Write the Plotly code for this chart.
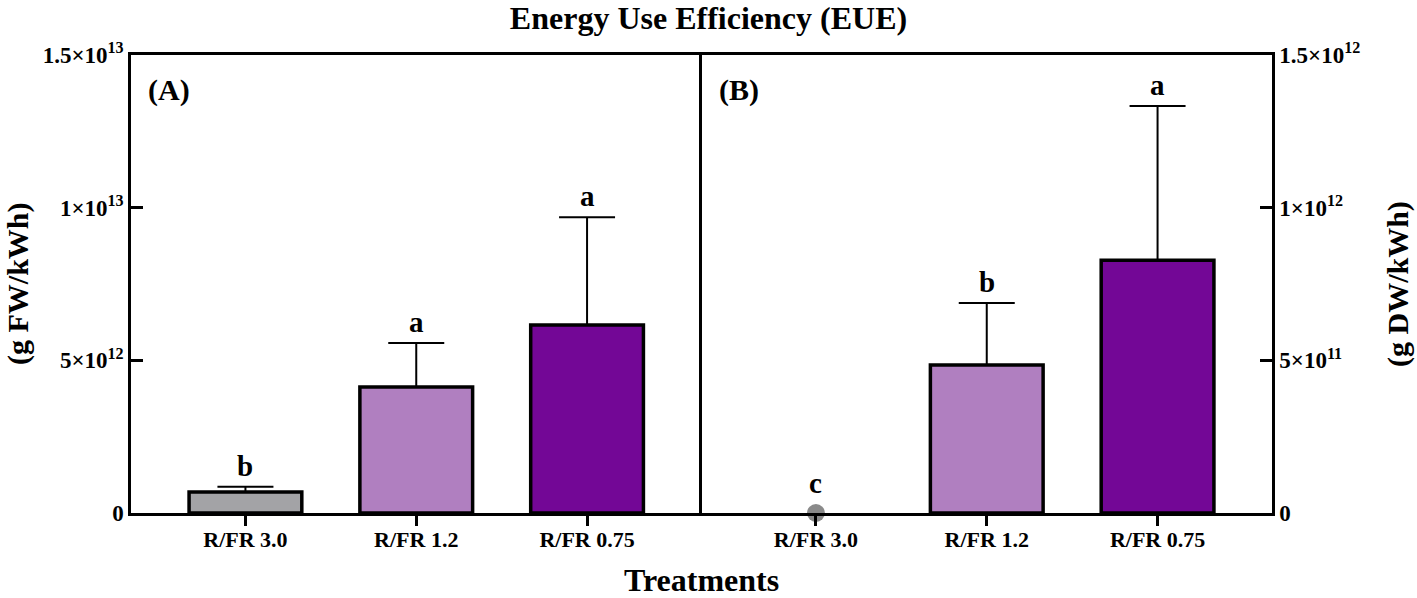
import plotly.graph_objects as go
from plotly.subplots import make_subplots

treatments = ["R/FR 3.0", "R/FR 1.2", "R/FR 0.75"]
colors = ["#a3a3a6", "#b07fc0", "#730796"]

# panel A, fresh weight basis
eue_fw = [0.69e12, 4.13e12, 6.16e12]
eue_fw_err = [0.17e12, 1.44e12, 3.53e12]
letters_fw = ["b", "a", "a"]

# panel B, dry weight basis (R/FR 3.0 is zero, drawn as a dot)
eue_dw = [0.0, 4.85e11, 8.28e11]
eue_dw_err = [0.0, 2.03e11, 5.05e11]
letters_dw = ["c", "b", "a"]

fw_ticks = [0, 5e12, 1e13, 1.5e13]
fw_ticktext = ["0", "5×10<sup>12</sup>", "1×10<sup>13</sup>", "1.5×10<sup>13</sup>"]
dw_ticks = [0, 5e11, 1e12, 1.5e12]
dw_ticktext = ["0", "5×10<sup>11</sup>", "1×10<sup>12</sup>", "1.5×10<sup>12</sup>"]

serif = "Liberation Serif"

fig = make_subplots(rows=1, cols=2, horizontal_spacing=0)

fig.add_trace(go.Bar(
    x=treatments, y=eue_fw, width=0.66,
    marker=dict(color=colors, line=dict(color="black", width=3.5)),
    error_y=dict(type="data", symmetric=False, array=eue_fw_err,
                 arrayminus=[0, 0, 0], color="black", thickness=2, width=28),
    showlegend=False), row=1, col=1)

# only the two non-zero bars in B
fig.add_trace(go.Bar(
    x=treatments[1:], y=eue_dw[1:], width=0.66,
    marker=dict(color=colors[1:], line=dict(color="black", width=3.5)),
    error_y=dict(type="data", symmetric=False, array=eue_dw_err[1:],
                 arrayminus=[0, 0], color="black", thickness=2, width=28),
    showlegend=False), row=1, col=2)

fig.add_trace(go.Scatter(
    x=treatments[:1], y=eue_dw[:1], mode="markers", cliponaxis=False,
    marker=dict(color="#8a8a8a", size=18), showlegend=False), row=1, col=2)

# significance letters
letter_font = dict(family=serif, size=29, color="black")
for i, t in enumerate(treatments):
    fig.add_annotation(x=t, y=eue_fw[i] + eue_fw_err[i], text=f"<b>{letters_fw[i]}</b>",
                       showarrow=False, yanchor="bottom", yshift=3,
                       font=letter_font, xref="x", yref="y")
    fig.add_annotation(x=t, y=eue_dw[i] + eue_dw_err[i], text=f"<b>{letters_dw[i]}</b>",
                       showarrow=False, yanchor="bottom", yshift=12 if i == 0 else 3,
                       font=letter_font, xref="x2", yref="y2")

for lbl, xr in [("(A)", "x domain"), ("(B)", "x2 domain")]:
    fig.add_annotation(x=0.027, y=0.924, xref=xr, yref="paper", text=f"<b>{lbl}</b>",
                       showarrow=False, xanchor="left", yanchor="middle",
                       font=dict(family=serif, size=30, color="black"))

# axis titles
fig.add_annotation(x=0, y=0.5, xref="paper", yref="paper", xshift=-113, textangle=-90,
                   xanchor="center", yanchor="middle",
                   text="<b>(g FW/kWh)</b>", showarrow=False,
                   font=dict(family=serif, size=30, color="black"))
fig.add_annotation(x=1, y=0.5, xref="paper", yref="paper", xshift=126, textangle=-90,
                   xanchor="center", yanchor="middle",
                   text="<b>(g DW/kWh)</b>", showarrow=False,
                   font=dict(family=serif, size=30, color="black"))
fig.add_annotation(x=0.5, y=-0.146, xref="paper", yref="paper", text="<b>Treatments</b>",
                   showarrow=False, yanchor="middle",
                   font=dict(family=serif, size=32, color="black"))

xaxis_style = dict(
    range=[-0.67, 2.67], showline=True, linecolor="black", linewidth=2.5, mirror=True,
    ticks="outside", ticklen=10, tickwidth=2.5, tickcolor="black",
    tickfont=dict(family=serif, size=22, color="black"), showgrid=False, zeroline=False,
    tickprefix="<b>", ticksuffix="</b>", automargin=False, ticklabelstandoff=-5,
    categoryorder="array", categoryarray=treatments)
fig.update_xaxes(**xaxis_style)

yaxis_style = dict(
    showline=True, linecolor="black", linewidth=2.5,
    ticks="inside", ticklen=12, tickwidth=2.5, tickcolor="black",
    tickfont=dict(family=serif, size=23, color="black"), showgrid=False, zeroline=False,
    automargin=False)

fig.update_yaxes(range=[0, 1.5e13], tickvals=fw_ticks, mirror=False,
                 ticktext=[f"<b>{s}</b>" for s in fw_ticktext],
                 row=1, col=1, **yaxis_style)
fig.update_yaxes(range=[0, 1.5e12], tickvals=dw_ticks, side="right", mirror=True,
                 ticktext=[f"<b>{s}</b>" for s in dw_ticktext],
                 row=1, col=2, **yaxis_style)

fig.update_layout(
    width=1417, height=598,
    title=dict(text="<b>Energy Use Efficiency (EUE)</b>", x=0.5, xanchor="center",
               y=0.97, yanchor="middle", font=dict(family=serif, size=32, color="black")),
    margin=dict(l=131, r=145, t=55, b=85),
    plot_bgcolor="white", paper_bgcolor="white", bargap=0.3)

# drop the default body margin so the figure sits at the page corner
fig.write_html("out.html", config={"displayModeBar": False},
               post_script="document.body.style.margin='0';")
